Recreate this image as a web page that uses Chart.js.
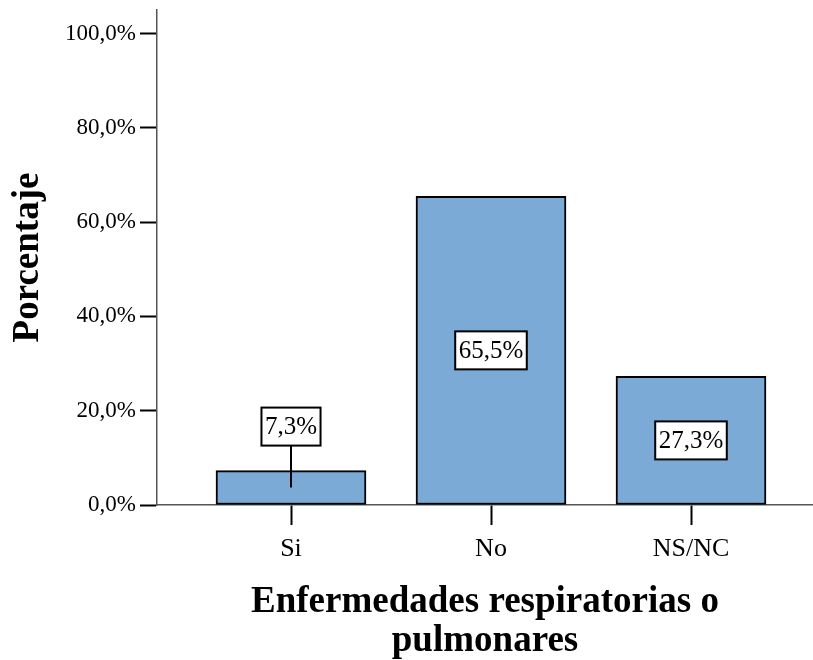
<!DOCTYPE html>
<html>
<head>
<meta charset="utf-8">
<script src="https://cdn.jsdelivr.net/npm/chart.js@4/dist/chart.umd.min.js"></script>
<style>
  html, body { margin: 0; padding: 0; background: #fff; }
  #wrap { width: 813px; height: 660px; }
</style>
</head>
<body>
<div id="wrap"><canvas id="barChart" width="813" height="660"></canvas></div>
<script>
// Chart data
const categories = ['Si', 'No', 'NS/NC'];
const percentages = [7.3, 65.5, 27.3];
const yTicks = [0, 20, 40, 60, 80, 100];

const serif = "'Liberation Serif', 'Times New Roman', serif";

function fmtPct(v) {
  return v.toFixed(1).replace('.', ',') + '%';
}

// Boxed value labels, placed at the middle of the bar (or above it with a leader line)
const boxLabels = {
  id: 'boxLabels',
  afterDatasetsDraw(chart) {
    const ctx = chart.ctx;
    const meta = chart.getDatasetMeta(0);
    ctx.save();
    ctx.font = '25px ' + serif;
    ctx.textAlign = 'center';
    ctx.textBaseline = 'middle';
    meta.data.forEach((bar, i) => {
      const text = fmtPct(percentages[i]);
      const w = ctx.measureText(text).width + 7;
      const h = 38;
      const mid = (bar.y + bar.base) / 2;
      let cy = mid;
      const inside = (bar.base - bar.y) > h + 10;
      if (!inside) {
        cy = bar.y - 25 - h / 2;
        ctx.strokeStyle = '#000';
        ctx.lineWidth = 2;
        ctx.beginPath();
        ctx.moveTo(bar.x, cy + h / 2);
        ctx.lineTo(bar.x, mid);
        ctx.stroke();
      }
      ctx.fillStyle = '#fff';
      ctx.fillRect(bar.x - w / 2, cy - h / 2, w, h);
      ctx.strokeStyle = '#000';
      ctx.lineWidth = 2;
      ctx.strokeRect(bar.x - w / 2, cy - h / 2, w, h);
      ctx.fillStyle = '#000';
      ctx.fillText(text, bar.x, cy + 1);
    });
    ctx.restore();
  }
};

const ctx = document.getElementById('barChart').getContext('2d');
window.barChart = new Chart(ctx, {
  type: 'bar',
  data: {
    datasets: [
      {
        label: 'Porcentaje',
        data: percentages.map((v, i) => ({ x: i, y: v })),
        backgroundColor: '#7BAAD6',
        borderColor: '#000',
        borderWidth: 2,
        borderSkipped: false,
        barThickness: 150,
      },
    ],
  },
  options: {
    responsive: false,
    animation: false,
    events: [],
    layout: { padding: { top: 10, right: 0, left: 0, bottom: 0 } },
    plugins: {
      legend: { display: false },
      tooltip: { enabled: false },
    },
    scales: {
      x: {
        type: 'linear',
        offset: false,
        min: -0.67,
        max: 2.61,
        afterFit: (s) => {
          s.height = 155;
          s.paddingLeft = 0;
          s.paddingRight = 0;
        },
        afterBuildTicks: (s) => { s.ticks = categories.map((_, i) => ({ value: i })); },
        grid: {
          offset: false,
          drawOnChartArea: false,
          drawTicks: true,
          tickLength: 20,
          tickWidth: 2,
          tickColor: '#000',
        },
        border: { color: '#555', width: 1.5 },
        ticks: {
          padding: 9,
          color: '#000',
          font: { family: serif, size: 26 },
          callback: (v) => categories[v],
        },
        title: {
          display: true,
          text: ['Enfermedades respiratorias o', 'pulmonares'],
          color: '#000',
          font: { family: serif, size: 37, weight: 'bold', lineHeight: 1.03 },
          padding: { top: 0, bottom: 0 },
        },
      },
      y: {
        min: 0,
        max: 105,
        afterFit: (s) => {
          s.width = 157;
          s.paddingTop = 0;
          s.paddingBottom = 0;
        },
        afterBuildTicks: (s) => { s.ticks = yTicks.map((v) => ({ value: v })); },
        grid: {
          drawOnChartArea: false,
          drawTicks: true,
          tickLength: 17,
          tickWidth: 2,
          tickColor: '#000',
        },
        border: { color: '#555', width: 1.5 },
        ticks: {
          padding: 4,
          color: '#000',
          font: { family: serif, size: 23 },
          callback: (v) => fmtPct(v),
        },
        title: {
          display: true,
          text: 'Porcentaje',
          color: '#000',
          font: { family: serif, size: 37, weight: 'bold', lineHeight: 1.2 },
          padding: { top: 6, bottom: 0 },
        },
      },
    },
  },
  plugins: [boxLabels],
});
</script>
</body>
</html>
